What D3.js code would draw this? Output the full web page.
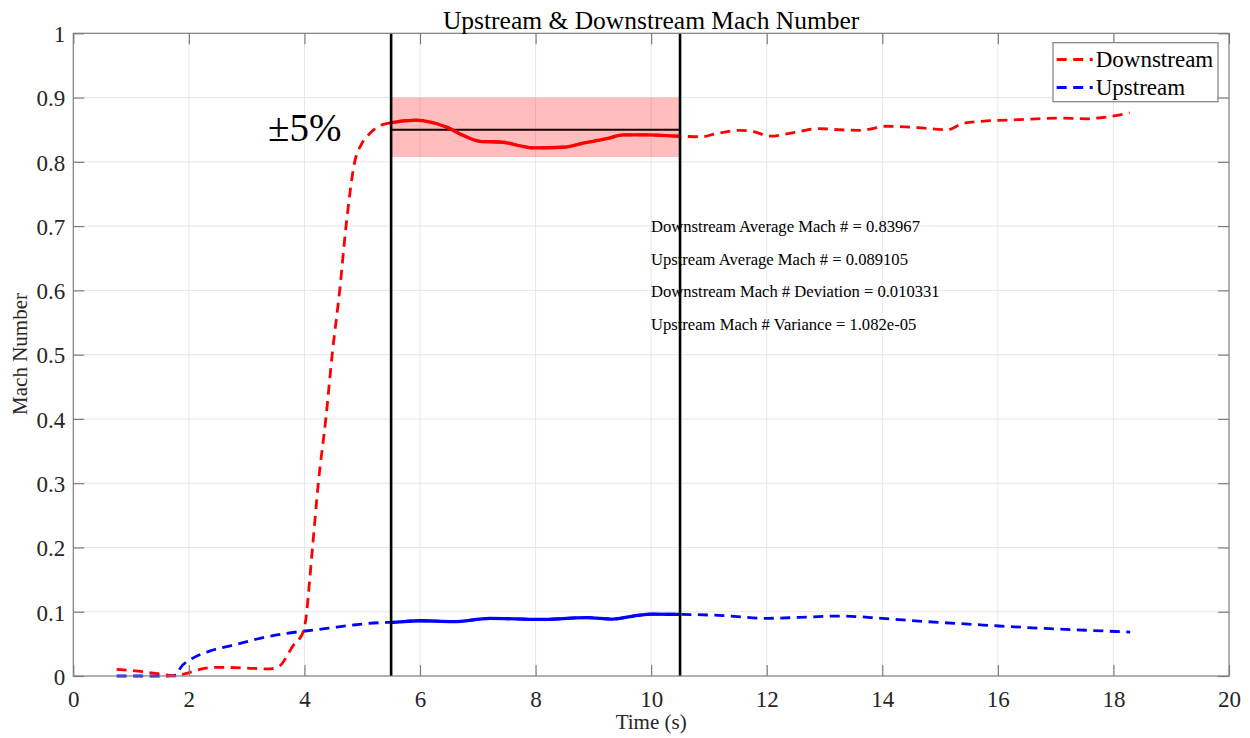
<!DOCTYPE html>
<html>
<head>
<meta charset="utf-8">
<script src="https://cdn.jsdelivr.net/npm/d3@7"></script>
<style>
  html, body { margin: 0; padding: 0; background: #fff; }
  svg { display: block; }
  text { font-family: "Liberation Serif", "Times New Roman", serif; }
</style>
</head>
<body>
<svg id="chart" width="1250" height="738"></svg>
<script>
// Downstream Mach number vs time (s)
const downTime = [0.75, 1.2, 1.62, 1.75, 1.96, 2.13, 2.48, 3.0, 3.37, 3.55, 3.81, 3.98, 4.04, 4.07, 4.14, 4.24, 4.37, 4.48, 4.61, 4.72, 4.87, 4.99, 5.13, 5.28, 5.51, 5.94, 6.05, 6.46, 6.75, 7.04, 7.44, 7.73, 7.96, 8.48, 8.82, 9.23, 9.52, 9.92, 10.47, 10.87, 11.13, 11.53, 11.79, 12.05, 12.44, 12.9, 13.23, 13.62, 14.08, 14.61, 15.13, 15.39, 15.72, 16.38, 17.03, 17.55, 17.81, 18.28];
const downMach = [0.0104, 0.0067, 0.0016, 0.0, 0.004, 0.009, 0.0135, 0.0124, 0.011, 0.0145, 0.048, 0.069, 0.1, 0.129, 0.2, 0.3, 0.4, 0.5, 0.6, 0.7, 0.8, 0.828, 0.844, 0.855, 0.861, 0.865, 0.864, 0.854, 0.841, 0.832, 0.8305, 0.825, 0.8217, 0.8227, 0.829, 0.836, 0.842, 0.842, 0.84, 0.839, 0.844, 0.849, 0.8466, 0.84, 0.845, 0.8518, 0.85, 0.849, 0.8554, 0.8533, 0.85, 0.8595, 0.863, 0.8657, 0.868, 0.867, 0.869, 0.876];

// Upstream Mach number vs time (s)
const upTime = [0.75, 1.2, 1.62, 1.79, 1.85, 2.02, 2.37, 2.77, 3.23, 3.69, 4.01, 4.38, 4.84, 5.31, 5.51, 6.0, 6.57, 7.21, 8.07, 8.88, 9.34, 9.69, 10.03, 10.44, 11.25, 12.0, 12.57, 13.27, 14.0, 14.79, 15.55, 16.02, 16.81, 17.57, 18.29];
const upMach = [0, 0, 0, 0.0016, 0.012, 0.025, 0.039, 0.048, 0.0586, 0.0664, 0.07, 0.074, 0.0793, 0.083, 0.0835, 0.086, 0.0845, 0.0897, 0.088, 0.0907, 0.0886, 0.0933, 0.0964, 0.096, 0.094, 0.0897, 0.0913, 0.0933, 0.0897, 0.0845, 0.0804, 0.0778, 0.074, 0.071, 0.0684];

// Averaging window and tolerance band
const windowStart = 5.5;
const windowEnd = 10.5;
const bandCenter = 0.85;
const bandLow = 0.8075;
const bandHigh = 0.9;

// Axis ticks
const xTicks = [0, 2, 4, 6, 8, 10, 12, 14, 16, 18, 20];
const yTicks = [0, 0.1, 0.2, 0.3, 0.4, 0.5, 0.6, 0.7, 0.8, 0.9, 1];
const yTickLabels = ["0", "0.1", "0.2", "0.3", "0.4", "0.5", "0.6", "0.7", "0.8", "0.9", "1"];

const statLines = [
  "Downstream Average Mach # = 0.83967",
  "Upstream Average Mach # = 0.089105",
  "Downstream Mach # Deviation = 0.010331",
  "Upstream Mach # Variance = 1.082e-05"
];
const seriesNames = ["Downstream", "Upstream"];
const seriesColors = ["#ff0000", "#0000ff"];

const svg = d3.select("#chart");
const plot = { left: 73.3, right: 1229, top: 33.3, bottom: 676 };

const x = d3.scaleLinear().domain([0, 20]).range([plot.left, plot.right]);
const y = d3.scaleLinear().domain([0, 1]).range([plot.bottom, plot.top]);

const axisGrey = "#7d7d7d";
const labelColor = "#262626";

// Grid
const grid = svg.append("g");
grid.selectAll("line.gx").data(xTicks.slice(1, -1)).join("line")
  .attr("x1", d => x(d)).attr("x2", d => x(d))
  .attr("y1", plot.top).attr("y2", plot.bottom)
  .attr("stroke", "#e6e6e6").attr("stroke-width", 1);
grid.selectAll("line.gy").data(yTicks.slice(1, -1)).join("line")
  .attr("y1", d => y(d)).attr("y2", d => y(d))
  .attr("x1", plot.left).attr("x2", plot.right)
  .attr("stroke", "#e6e6e6").attr("stroke-width", 1);

// Tolerance band and its center line
svg.append("rect")
  .attr("x", x(windowStart)).attr("width", x(windowEnd) - x(windowStart))
  .attr("y", y(bandHigh)).attr("height", y(bandLow) - y(bandHigh))
  .attr("fill", "#ff0000").attr("fill-opacity", 0.26);
svg.append("line")
  .attr("x1", x(windowStart)).attr("x2", x(windowEnd))
  .attr("y1", y(bandCenter)).attr("y2", y(bandCenter))
  .attr("stroke", "#1a0000").attr("stroke-width", 2);

// Series
const downData = downTime.map((t, i) => [t, downMach[i]]);
const upData = upTime.map((t, i) => [t, upMach[i]]);
const line = d3.line().x(d => x(d[0])).y(d => y(d[1])).curve(d3.curveMonotoneX);

svg.append("defs").append("clipPath").attr("id", "window-clip")
  .append("rect")
  .attr("x", x(windowStart)).attr("width", x(windowEnd) - x(windowStart))
  .attr("y", plot.top).attr("height", plot.bottom - plot.top);

const dash = "10,6.5";
svg.append("path").datum(upData).attr("d", line)
  .attr("fill", "none").attr("stroke", seriesColors[1]).attr("stroke-width", 2.8)
  .attr("stroke-dasharray", dash);
svg.append("path").datum(downData).attr("d", line)
  .attr("fill", "none").attr("stroke", seriesColors[0]).attr("stroke-width", 2.8)
  .attr("stroke-dasharray", dash);

// Solid segments inside the averaging window
svg.append("path").datum(upData).attr("d", line)
  .attr("clip-path", "url(#window-clip)")
  .attr("fill", "none").attr("stroke", seriesColors[1]).attr("stroke-width", 3.3);
svg.append("path").datum(downData).attr("d", line)
  .attr("clip-path", "url(#window-clip)")
  .attr("fill", "none").attr("stroke", seriesColors[0]).attr("stroke-width", 3.3);

// Window boundaries
svg.selectAll("line.win").data([windowStart, windowEnd]).join("line")
  .attr("x1", d => x(d)).attr("x2", d => x(d))
  .attr("y1", plot.top).attr("y2", plot.bottom)
  .attr("stroke", "#000").attr("stroke-width", 2.6);

// Axes box with inward ticks on all sides
const tickLen = 11;
const axes = svg.append("g");
axes.append("rect")
  .attr("x", plot.left).attr("y", plot.top)
  .attr("width", plot.right - plot.left).attr("height", plot.bottom - plot.top)
  .attr("fill", "none").attr("stroke", axisGrey).attr("stroke-width", 1.2);

const xAxisB = d3.axisBottom(x).tickValues(xTicks).tickSize(-tickLen).tickFormat(d3.format("d"));
const gxb = axes.append("g").attr("transform", `translate(0,${plot.bottom})`).call(xAxisB);
const xAxisT = d3.axisTop(x).tickValues(xTicks).tickSize(-tickLen).tickFormat("");
const gxt = axes.append("g").attr("transform", `translate(0,${plot.top})`).call(xAxisT);
const yAxisL = d3.axisLeft(y).tickValues(yTicks).tickSize(-tickLen).tickFormat((d, i) => yTickLabels[i]);
const gyl = axes.append("g").attr("transform", `translate(${plot.left},0)`).call(yAxisL);
const yAxisR = d3.axisRight(y).tickValues(yTicks).tickSize(-tickLen).tickFormat("");
const gyr = axes.append("g").attr("transform", `translate(${plot.right},0)`).call(yAxisR);

[gxb, gxt, gyl, gyr].forEach(g => {
  g.select(".domain").remove();
  g.selectAll(".tick line").attr("stroke", axisGrey).attr("stroke-width", 1.2);
});
gxb.selectAll(".tick text")
  .attr("font-family", "Liberation Serif, serif").attr("font-size", 23)
  .attr("fill", labelColor).attr("y", 15).attr("dy", "0.71em");
gyl.selectAll(".tick text")
  .attr("font-family", "Liberation Serif, serif").attr("font-size", 23)
  .attr("fill", labelColor).attr("x", -8).attr("dy", "0.36em");

// Title and axis labels
svg.append("text").attr("x", (plot.left + plot.right) / 2).attr("y", 29)
  .attr("text-anchor", "middle").attr("font-size", 25.5).attr("fill", "#000")
  .text("Upstream & Downstream Mach Number");
svg.append("text").attr("x", (plot.left + plot.right) / 2).attr("y", 729)
  .attr("text-anchor", "middle").attr("font-size", 21).attr("fill", labelColor)
  .text("Time (s)");
svg.append("text").attr("transform", "translate(26.5,354) rotate(-90)")
  .attr("text-anchor", "middle").attr("font-size", 21).attr("fill", labelColor)
  .text("Mach Number");

// Statistics annotation
svg.append("g").selectAll("text").data(statLines).join("text")
  .attr("x", 651).attr("y", (d, i) => 232.3 + i * 32.4)
  .attr("font-size", 16.6).attr("fill", "#000")
  .text(d => d);

// Tolerance label
svg.append("text").attr("x", 268).attr("y", 141)
  .attr("font-family", "Liberation Sans, Arial, sans-serif")
  .attr("font-size", 39).attr("fill", "#000")
  .text("±5%");

// Legend
const legend = svg.append("g");
legend.append("rect")
  .attr("x", 1053).attr("y", 42.7).attr("width", 165).attr("height", 59)
  .attr("fill", "#fff").attr("stroke", axisGrey).attr("stroke-width", 1.2);
const rows = legend.selectAll("g.row").data(seriesNames).join("g")
  .attr("transform", (d, i) => `translate(1056.7,${59.5 + i * 28})`);
rows.append("line")
  .attr("x1", 0).attr("x2", 36).attr("y1", 0).attr("y2", 0)
  .attr("stroke", (d, i) => seriesColors[i]).attr("stroke-width", 2.8)
  .attr("stroke-dasharray", "10,6.5");
rows.append("text")
  .attr("x", 39).attr("y", 7.5)
  .attr("font-size", 23).attr("fill", "#000")
  .text(d => d);
</script>
</body>
</html>
